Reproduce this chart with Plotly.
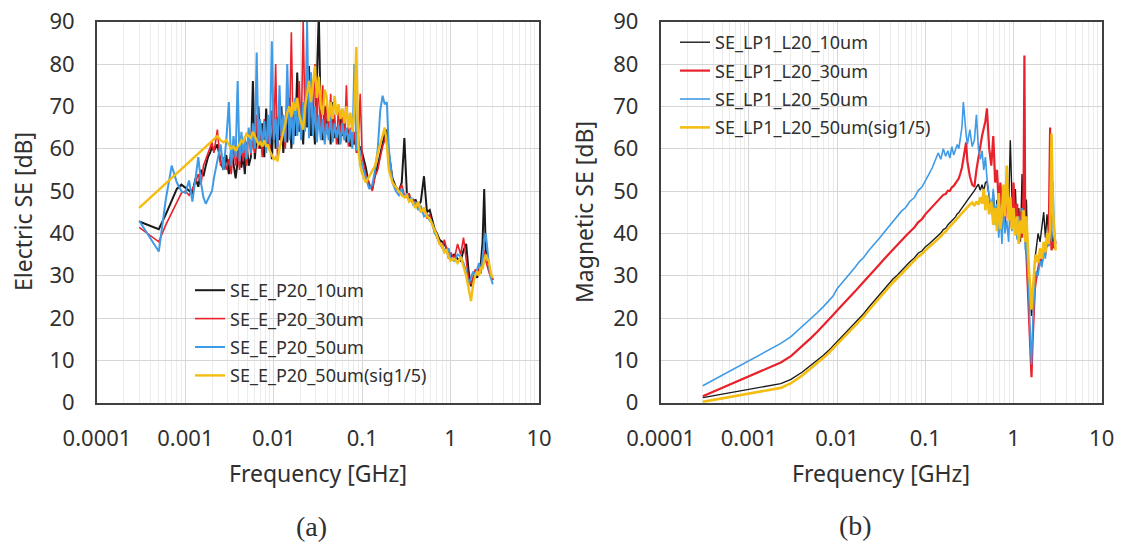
import plotly.graph_objects as go

# ---------------- data: (a) Electric SE ----------------
freq_e = [
    0.0003, 0.0005, 0.0006, 0.0007, 0.0008, 0.0009, 0.001, 0.0011, 0.0012, 0.0013,
    0.0014, 0.0015, 0.0016, 0.0017, 0.0018, 0.0019, 0.002, 0.0021, 0.0023, 0.0025,
    0.0027, 0.0029, 0.0031, 0.0033, 0.0035, 0.0037, 0.0039, 0.0041, 0.0043, 0.0045,
    0.0047, 0.0049, 0.0052, 0.0055, 0.0058, 0.0061, 0.0064, 0.0067, 0.007, 0.0074,
    0.0078, 0.0082, 0.0086, 0.009, 0.0095, 0.01, 0.0105, 0.011, 0.0116, 0.0122,
    0.0128, 0.0135, 0.0142, 0.015, 0.0158, 0.0166, 0.0175, 0.0184, 0.0194, 0.0204,
    0.0215, 0.0226, 0.0238, 0.025, 0.0263, 0.0277, 0.0292, 0.0307, 0.0323, 0.034,
    0.0358, 0.0377, 0.0397, 0.0418, 0.044, 0.0463, 0.0487, 0.0513, 0.054, 0.0568,
    0.0598, 0.063, 0.0663, 0.0698, 0.0735, 0.0774, 0.0815, 0.0858, 0.0903, 0.095,
    0.1, 0.11, 0.12, 0.13, 0.14, 0.15, 0.16, 0.17, 0.18, 0.19,
    0.2, 0.22, 0.24, 0.26, 0.28, 0.3, 0.32, 0.34, 0.36, 0.38,
    0.4, 0.43, 0.46, 0.5, 0.54, 0.58, 0.62, 0.66, 0.7, 0.75,
    0.8, 0.85, 0.9, 0.95, 1.0, 1.1, 1.2, 1.3, 1.4, 1.5,
    1.6, 1.7, 1.8, 1.9, 2.0, 2.1, 2.2, 2.3, 2.4, 2.5,
    2.6, 2.7, 2.8, 2.9, 3.0,
]

se_e_p20_10um = [
    42.8, 41.0, 44.5, 47.5, 50.5, 51.5, 50.8, 50.0, 49.5, 53.0,
    51.0, 55.0, 53.5, 56.0, 58.0, 59.0, 60.5, 59.5, 61.0, 57.0,
    55.0, 58.5, 54.0, 60.0, 56.5, 53.0, 57.0, 62.0, 55.5, 59.0,
    54.0, 61.5, 56.0, 58.0, 76.0, 57.5, 63.0, 70.0, 60.0, 66.0,
    58.0, 69.5, 61.0, 65.0, 57.5, 71.0, 60.0, 67.5, 62.0, 70.0,
    59.0, 66.0, 61.5, 72.0, 60.0, 68.0, 63.0, 78.0, 64.0, 70.0,
    61.0, 73.0, 65.0, 79.5, 63.0, 68.0, 61.0, 74.0, 92.0, 66.0,
    62.0, 70.0, 63.5, 67.0, 61.0, 71.0, 62.5, 65.0, 61.0, 69.0,
    63.0, 66.0, 61.5, 64.5, 60.5, 63.0, 61.0, 64.0, 59.0, 60.5,
    59.0, 55.5, 51.0, 50.5, 54.0, 56.0, 58.5, 61.0, 63.5, 64.5,
    59.0, 53.0, 51.0, 50.0, 52.0, 62.5, 49.5, 48.5, 48.0, 47.0,
    48.0, 46.5, 47.5, 53.5, 45.0, 45.5, 43.0, 41.0, 40.0, 38.5,
    38.0, 37.5, 36.5, 35.0, 34.5, 35.0, 34.0, 33.5, 36.0, 37.5,
    31.0, 27.5, 29.0, 30.5, 29.5, 31.0, 33.0, 38.0, 50.5, 36.0,
    34.0, 33.0, 31.0, 30.0, 29.0,
]

se_e_p20_30um = [
    41.4, 38.0, 42.0, 45.0, 47.5, 49.5, 50.0, 49.0, 50.5, 52.0,
    54.0, 51.5, 56.0, 57.5, 59.0, 60.0, 61.5, 59.0, 64.5, 56.0,
    58.0, 55.0, 57.5, 54.0, 61.0, 56.0, 59.5, 55.0, 63.0, 57.0,
    60.5, 56.0, 64.0, 58.5, 62.0, 59.0, 68.0, 60.0, 65.5, 58.0,
    67.0, 61.0, 64.0, 59.5, 69.0, 62.0, 80.0, 58.0, 71.0, 61.0,
    68.0, 60.0, 74.0, 63.0, 87.5, 62.0, 70.0, 64.0, 76.0, 62.5,
    90.0, 65.0, 81.0, 66.0, 78.0, 64.0, 80.0, 65.5, 76.0, 63.0,
    75.0, 64.0, 71.0, 63.0, 73.0, 62.5, 68.0, 61.0, 70.0, 63.0,
    67.5, 62.0, 75.0, 60.5, 65.0, 61.0, 64.0, 59.0, 62.0, 73.0,
    58.0, 54.0, 52.0, 50.0, 53.5, 55.0, 58.0, 60.5, 62.0, 63.5,
    58.0, 52.5, 50.5, 50.0, 51.5, 49.0, 48.5, 49.5, 47.5, 48.0,
    46.5, 47.0, 45.0, 46.0, 43.5, 44.5, 42.0, 40.5, 39.0, 38.0,
    36.5, 38.5, 36.0, 34.0, 35.5, 34.0, 37.5, 35.0, 39.0, 33.0,
    29.0, 28.0, 30.0, 31.5, 30.0, 32.0, 31.0, 34.0, 36.0, 33.5,
    32.0, 31.0, 30.0, 29.5, 29.0,
]

se_e_p20_50um = [
    43.0, 35.7, 48.0, 56.0, 52.0, 50.0, 49.5, 52.5, 47.5, 53.5,
    58.0, 52.0, 48.5, 47.0, 48.0, 49.0, 50.0, 53.0, 57.0, 61.0,
    55.0, 62.0, 71.0, 56.0, 63.0, 58.0, 76.0, 57.0, 64.0, 59.0,
    63.0, 57.5, 65.0, 59.0, 66.0, 60.0, 82.7, 61.0, 67.0, 60.5,
    66.5, 59.0, 68.0, 61.0, 85.4, 62.0, 67.0, 60.0, 75.0, 63.0,
    68.0, 61.5, 80.0, 62.0, 69.0, 61.0, 72.0, 63.0, 70.0, 62.0,
    71.0, 64.0, 90.0, 62.5, 78.0, 63.0, 70.0, 61.5, 68.0, 62.0,
    67.0, 61.0, 66.0, 62.0, 67.5, 61.5, 66.0, 62.5, 65.5, 61.0,
    66.0, 62.0, 65.0, 61.5, 64.5, 60.0, 80.0, 59.5, 63.0, 58.0,
    56.0, 53.0, 50.5, 51.5, 55.0, 60.0, 69.0, 72.5, 70.5, 71.0,
    60.0, 52.0, 50.0, 49.0, 50.5, 48.5, 49.5, 47.5, 48.5, 46.5,
    47.5, 45.5, 46.5, 44.0, 44.5, 43.0, 42.5, 40.0, 39.5, 37.5,
    37.0, 36.0, 35.5, 36.5, 34.0, 33.5, 35.0, 34.5, 33.0, 31.0,
    28.0, 29.5, 31.0, 30.0, 31.5, 33.0, 30.5, 35.0, 38.0, 40.0,
    36.0, 33.0, 30.0, 29.0, 28.0,
]

se_e_p20_50um_sig = [
    46.0, None, None, None, None, None, None, None, None, None,
    None, None, None, None, None, None, None, None, 63.0, 62.0,
    61.5, 62.0, 61.0, 60.0, 60.5, 59.5, 60.5, 61.0, 62.0, 61.5,
    62.5, 63.5, 63.0, 62.5, 64.0, 63.0, 62.0, 61.0, 61.5, 60.5,
    62.0, 60.5, 61.0, 59.5, 58.5, 57.5, 58.0, 57.0, 60.0, 62.0,
    63.5, 66.0, 68.5, 70.0, 67.5, 71.0, 69.0, 72.0, 68.0, 66.0,
    64.5, 70.0, 73.0, 76.0, 71.0, 75.0, 79.5, 72.0, 77.0, 70.0,
    68.0, 74.0, 72.0, 66.5, 71.0, 67.0, 72.5, 68.0, 70.5, 67.0,
    69.5, 66.0, 70.0, 65.0, 68.5, 64.0, 69.0, 84.0, 60.0, 56.0,
    54.0, 52.0, 53.5, 55.0, 56.0, 59.0, 61.0, 63.0, 65.0, 61.0,
    55.0, 52.0, 51.0, 50.0, 49.0, 48.5, 49.0, 47.5, 48.0, 47.0,
    46.0, 47.5, 45.0, 46.0, 44.0, 43.5, 42.0, 41.0, 39.5, 37.5,
    37.0, 35.5, 36.0, 34.5, 33.5, 34.0, 33.0, 34.5, 32.0, 30.0,
    27.0, 24.0, 28.0, 30.0, 31.0, 30.0, 32.0, 31.5, 33.5, 35.0,
    34.0, 33.5, 31.5, 30.0, 29.5,
]

# ---------------- data: (b) Magnetic SE ----------------
freq_h = [
    0.0003, 0.0023, 0.003, 0.004, 0.005, 0.006, 0.007, 0.008, 0.009, 0.01,
    0.012, 0.014, 0.016, 0.018, 0.02, 0.023, 0.026, 0.03, 0.034, 0.038,
    0.043, 0.048, 0.054, 0.06, 0.067, 0.075, 0.083, 0.092, 0.1, 0.11,
    0.12, 0.13, 0.14, 0.15, 0.16, 0.17, 0.18, 0.19, 0.2, 0.21,
    0.22, 0.23, 0.24, 0.25, 0.26, 0.27, 0.28, 0.29, 0.3, 0.32,
    0.34, 0.36, 0.38, 0.4, 0.42, 0.44, 0.46, 0.48, 0.5, 0.53,
    0.56, 0.59, 0.62, 0.65, 0.68, 0.71, 0.74, 0.77, 0.8, 0.84,
    0.88, 0.92, 0.96, 1.0, 1.05, 1.1, 1.15, 1.2, 1.25, 1.3,
    1.33, 1.36, 1.4, 1.45, 1.5, 1.55, 1.6, 1.65, 1.7, 1.75,
    1.8, 1.9, 2.0, 2.1, 2.2, 2.3, 2.4, 2.5, 2.6, 2.65,
    2.7, 2.8, 2.9, 3.0,
]

se_lp1_l20_10um = [
    1.2, 4.5, 5.5, 7.2, 8.8, 10.0, 11.2, 12.3, 13.4, 14.5,
    16.2, 17.6, 18.9, 20.0, 21.0, 22.6, 23.9, 25.4, 26.8, 27.9,
    29.2, 30.1, 31.3, 32.2, 33.3, 34.2, 35.3, 35.9, 36.8, 37.5,
    38.2, 38.8, 39.6, 40.1, 40.9, 41.2, 42.0, 42.5, 43.1, 43.6,
    43.9, 44.6, 44.9, 45.5, 45.9, 46.4, 46.9, 47.4, 47.8, 48.6,
    49.4, 50.1, 50.9, 51.6, 50.2, 51.5, 50.0, 52.0, 52.3, 48.5,
    45.1, 49.8, 43.6, 47.9, 42.2, 51.3, 44.0, 46.8, 41.5, 55.0,
    46.0, 62.0, 48.5, 43.0, 50.5, 40.5, 46.0, 38.0, 54.0, 44.0,
    57.5, 42.0, 48.0, 36.0, 30.0, 26.0, 20.5, 24.0, 30.5, 34.0,
    36.0, 40.0, 38.0, 41.5, 45.0, 39.0, 44.5, 40.0, 42.0, 38.5,
    40.5, 37.0, 39.5, 38.0,
]

se_lp1_l20_30um = [
    1.5, 9.5, 11.0, 13.3, 15.2, 16.8, 18.2, 19.5, 20.7, 21.8,
    23.5, 24.9, 26.3, 27.5, 28.5, 30.0, 31.2, 32.6, 33.9, 35.0,
    36.3, 37.2, 38.4, 39.4, 40.4, 41.4, 42.6, 43.4, 44.5, 45.4,
    46.2, 46.9, 47.8, 48.4, 49.1, 49.3, 50.1, 50.0, 50.9, 51.2,
    51.8, 52.5, 53.0, 54.2, 55.5, 57.5, 59.5, 61.5, 57.0, 53.5,
    51.5, 51.0, 55.0, 58.5, 60.5, 63.0, 65.0, 66.5, 69.5, 60.0,
    56.0, 63.0, 52.0, 55.0, 47.0, 52.0, 44.0, 49.0, 42.0, 50.0,
    45.0, 47.5, 41.0, 52.0, 43.0, 47.0, 38.0, 45.0, 39.0, 50.0,
    82.0, 40.0, 35.0, 28.0, 22.0, 12.0, 6.0, 15.0, 24.0, 27.0,
    29.0, 32.0, 34.0, 33.0, 36.0, 35.0, 38.0, 37.0, 65.0, 40.0,
    36.0, 38.0, 36.5, 38.0,
]

se_lp1_l20_50um = [
    4.0, 14.0, 15.6, 17.9, 19.7, 21.3, 22.7, 24.0, 25.2, 26.9,
    28.8, 30.5, 32.0, 33.4, 34.3, 36.0, 37.2, 38.8, 40.2, 41.4,
    42.7, 43.9, 45.3, 46.1, 47.6, 48.4, 50.1, 51.0, 52.3, 54.0,
    55.5, 57.5, 59.0, 57.5, 60.0, 58.2, 59.5, 57.8, 60.5, 58.5,
    59.8, 61.0, 60.0, 62.5, 65.0, 71.0, 66.0, 63.5, 61.0, 64.5,
    60.5, 62.0, 68.0, 60.0, 57.5, 59.5, 55.0, 58.0, 53.0, 49.0,
    45.0, 50.5, 42.0, 47.0, 39.0, 44.0, 37.5, 46.0, 40.0, 43.0,
    38.0, 48.0, 40.5, 45.5, 42.0, 38.5, 44.0, 40.0, 46.0, 42.0,
    44.0, 36.0, 38.0, 32.0, 24.0, 15.0, 9.0, 18.0, 25.0, 28.0,
    31.0, 30.0, 33.5, 32.0, 36.0, 34.0, 39.0, 37.0, 40.0, 43.0,
    38.0, 52.0, 41.0, 38.0,
]

se_lp1_l20_50um_sig = [
    0.2, 3.5, 4.6, 6.4, 8.1, 9.4, 10.6, 11.7, 12.8, 13.8,
    15.5, 16.9, 18.2, 19.3, 20.3, 21.9, 23.2, 24.7, 26.0, 27.1,
    28.4, 29.4, 30.5, 31.5, 32.5, 33.5, 34.5, 35.2, 36.0, 36.8,
    37.4, 38.0, 38.7, 39.3, 40.0, 40.4, 41.1, 41.6, 42.2, 42.6,
    43.0, 43.5, 43.9, 44.4, 44.8, 45.2, 45.6, 46.0, 46.3, 46.8,
    47.3, 46.5, 47.5, 46.8, 48.5, 47.0, 50.5, 45.5, 49.0, 44.5,
    47.5, 42.0, 46.0, 40.5, 49.5, 41.0, 45.0, 51.5, 44.0, 56.0,
    43.0, 48.5, 41.0, 46.0, 39.5, 44.0, 37.5, 43.0, 40.0, 45.5,
    41.0, 38.0, 44.0, 35.0, 31.0, 27.0, 22.0, 26.0, 31.5, 33.5,
    35.0, 33.0, 36.5, 34.0, 38.0, 35.5, 40.0, 37.5, 41.0, 52.0,
    63.5, 45.0, 40.0, 36.0,
]

names_e = ["SE_E_P20_10um", "SE_E_P20_30um", "SE_E_P20_50um", "SE_E_P20_50um(sig1/5)"]
names_h = ["SE_LP1_L20_10um", "SE_LP1_L20_30um", "SE_LP1_L20_50um", "SE_LP1_L20_50um(sig1/5)"]
x_tick_vals = [0.0001, 0.001, 0.01, 0.1, 1, 10]
x_tick_text = ["0.0001", "0.001", "0.01", "0.1", "1", "10"]
y_tick_vals = [0, 10, 20, 30, 40, 50, 60, 70, 80, 90]

# ---------------- styles / geometry ----------------
colors = ["#1a1a1a", "#e8212b", "#3f9be6", "#f4bd12"]
widths_e = [2.0, 1.6, 2.0, 2.4]
widths_h = [1.4, 2.2, 1.6, 2.6]

W, H = 1122, 545


def PX(px):
    return px / W


def PY(py):
    return 1 - py / H


fig = go.Figure()
for nm, vals, c, w in zip(names_e, [se_e_p20_10um, se_e_p20_30um, se_e_p20_50um, se_e_p20_50um_sig], colors, widths_e):
    fig.add_trace(go.Scatter(x=freq_e, y=vals, name=nm, mode="lines", connectgaps=True,
                             line=dict(color=c, width=w), xaxis="x", yaxis="y",
                             legend="legend", legendgroup=nm))
for nm, vals, c, w in zip(names_h, [se_lp1_l20_10um, se_lp1_l20_30um, se_lp1_l20_50um, se_lp1_l20_50um_sig], colors, widths_h):
    fig.add_trace(go.Scatter(x=freq_h, y=vals, name=nm, mode="lines",
                             line=dict(color=c, width=w), xaxis="x2", yaxis="y2",
                             legend="legend2", legendgroup=nm))

minor_vals = [m * 10.0 ** d for d in range(-4, 1) for m in range(2, 10)]
axis_font = dict(family="Noto Sans, sans-serif", size=22, color="#303030")
title_font = dict(family="Noto Sans, sans-serif", size=23, color="#303030")

xcommon = dict(type="log", range=[-4, 1], tickmode="array", tickvals=x_tick_vals, ticktext=x_tick_text,
               showgrid=True, gridcolor="#d6d6d6", gridwidth=1,
               minor=dict(tickmode="array", tickvals=minor_vals, showgrid=True, gridcolor="#ececec", gridwidth=1, ticks=""),
               showline=True, linecolor="#404040", linewidth=2, mirror=True, ticks="",
               tickfont=axis_font, zeroline=False, automargin=False, ticklabelstandoff=15)
ycommon = dict(range=[0, 90], tickmode="array", tickvals=y_tick_vals,
               showgrid=True, gridcolor="#d6d6d6", gridwidth=1,
               showline=True, linecolor="#404040", linewidth=2, mirror=True, ticks="",
               tickfont=axis_font, zeroline=False, automargin=False, ticklabelstandoff=16)

ydom = [PY(402.7), PY(21.7)]
fig.update_layout(
    width=W, height=H, margin=dict(l=0, r=0, t=0, b=0), autosize=False,
    paper_bgcolor="white", plot_bgcolor="white",
    font=dict(family="Noto Sans, sans-serif", color="#303030"),
    xaxis=dict(domain=[PX(97), PX(539)], anchor="y", **xcommon),
    yaxis=dict(domain=ydom, anchor="x", **ycommon),
    xaxis2=dict(domain=[PX(660.7), PX(1101.7)], anchor="y2", **xcommon),
    yaxis2=dict(domain=ydom, anchor="x2", **ycommon),
    legend=dict(x=PX(190), y=PY(272), xanchor="left", yanchor="top",
                bgcolor="rgba(0,0,0,0)", borderwidth=0, tracegroupgap=2,
                font=dict(family="Noto Sans, sans-serif", size=18, color="#303030")),
    legend2=dict(x=PX(675), y=PY(24), xanchor="left", yanchor="top",
                 bgcolor="rgba(0,0,0,0)", borderwidth=0, tracegroupgap=2,
                 font=dict(family="Noto Sans, sans-serif", size=18, color="#303030")),
    annotations=[
        dict(text="Frequency [GHz]", x=PX(318), y=PY(473), xref="paper", yref="paper",
             showarrow=False, xanchor="center", yanchor="middle", font=title_font),
        dict(text="Frequency [GHz]", x=PX(881), y=PY(473), xref="paper", yref="paper",
             showarrow=False, xanchor="center", yanchor="middle", font=title_font),
        dict(text="Electric SE [dB]", x=PX(23), y=PY(212), xref="paper", yref="paper",
             showarrow=False, textangle=-90, xanchor="center", yanchor="middle", font=title_font),
        dict(text="Magnetic SE [dB]", x=PX(584), y=PY(212), xref="paper", yref="paper",
             showarrow=False, textangle=-90, xanchor="center", yanchor="middle", font=title_font),
        dict(text="(a)", x=PX(311), y=PY(526), xref="paper", yref="paper",
             showarrow=False, xanchor="center", yanchor="middle",
             font=dict(family="Liberation Serif, serif", size=28, color="#303030")),
        dict(text="(b)", x=PX(855), y=PY(525), xref="paper", yref="paper",
             showarrow=False, xanchor="center", yanchor="middle",
             font=dict(family="Liberation Serif, serif", size=28, color="#303030")),
    ],
)

# remove the default 8px page margin so the figure sits at the window's top-left corner
fig.write_html("out.html", config={"displayModeBar": False},
               post_script="document.body.style.margin='0px';")
